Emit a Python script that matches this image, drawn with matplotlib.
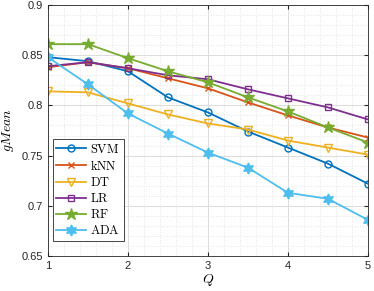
import matplotlib
matplotlib.use("Agg")
import matplotlib.pyplot as plt
from matplotlib.ticker import MultipleLocator

plt.rcParams['mathtext.fontset'] = 'cm'
plt.rcParams['font.family'] = ['Liberation Sans', 'DejaVu Sans']

Q = [1, 1.5, 2, 2.5, 3, 3.5, 4, 4.5, 5]
svm = [0.848, 0.844, 0.834, 0.808, 0.793, 0.774, 0.758, 0.742, 0.722]
knn = [0.838, 0.843, 0.837, 0.827, 0.817, 0.803, 0.790, 0.778, 0.768]
dt = [0.814, 0.813, 0.802, 0.791, 0.782, 0.776, 0.765, 0.758, 0.751]
lr = [0.839, 0.843, 0.837, 0.830, 0.826, 0.816, 0.807, 0.798, 0.786]
rf = [0.861, 0.861, 0.847, 0.834, 0.823, 0.808, 0.794, 0.778, 0.763]
ada = [0.848, 0.821, 0.792, 0.772, 0.753, 0.738, 0.713, 0.707, 0.686]

series = [
    ("SVM", svm, '#0072BD', 'o', 'none', 5),
    ("kNN", knn, '#D95319', 'x', '#D95319', 4),
    ("DT", dt, '#EDB120', 'v', 'none', 6),
    ("LR", lr, '#7E2F8E', 's', 'none', 5),
    ("RF", rf, '#77AC30', '*', '#77AC30', 9),
    ("ADA", ada, '#4DBEEE', (6, 1, 0), '#4DBEEE', 8),
]

fig = plt.figure(figsize=(3.74, 2.91), dpi=100)
ax = fig.add_axes([0.128, 0.120, 0.856, 0.863])

for name, vals, c, m, fc, ms in series:
    ax.plot(Q, vals, color=c, marker=m, markerfacecolor=fc, markeredgecolor=c,
            markersize=ms, linewidth=1.3, markeredgewidth=1.0,
            label=r'$\mathrm{' + name + '}$')

ax.set_xlim(1, 5)
ax.set_ylim(0.65, 0.9)
ax.xaxis.set_major_locator(MultipleLocator(1))
ax.yaxis.set_major_locator(MultipleLocator(0.05))
ax.xaxis.set_minor_locator(MultipleLocator(0.2))
ax.yaxis.set_minor_locator(MultipleLocator(0.01))
ax.set_yticks([0.65, 0.7, 0.75, 0.8, 0.85, 0.9])
ax.set_yticklabels(['0.65', '0.7', '0.75', '0.8', '0.85', '0.9'])
ax.grid(which='major', color='#dcdcdc', linewidth=0.7)
ax.grid(which='minor', color='#e6e6e6', linestyle=':', linewidth=0.7)
ax.set_axisbelow(True)
ax.tick_params(which='both', direction='in', labelsize=8, colors='#262626', length=3)
ax.tick_params(which='minor', length=0)
ax.tick_params(top=True, right=True)
for s in ax.spines.values():
    s.set_color('#262626')
    s.set_linewidth(0.6)

ax.set_xlabel(r'$Q$', fontsize=10, labelpad=1)
ax.set_ylabel(r'$gMean$', fontsize=10, labelpad=4)

leg = ax.legend(loc='lower left', bbox_to_anchor=(0.015, 0.06), fontsize=9,
                fancybox=False, edgecolor='#262626', framealpha=1,
                handlelength=2.4, handletextpad=0.3, borderpad=0.3,
                labelspacing=0.25, borderaxespad=0)
leg.get_frame().set_linewidth(0.6)

fig.savefig('out.png', dpi=100)
